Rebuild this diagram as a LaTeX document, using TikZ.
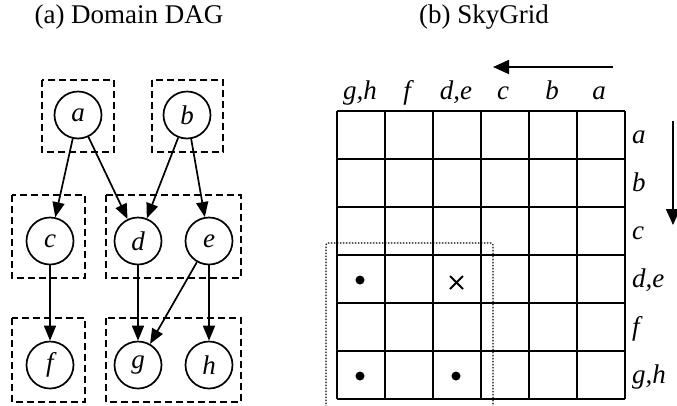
\documentclass[tikz,border=0pt]{standalone}
\usepackage{fontspec}
\setmainfont{Liberation Serif}
\usetikzlibrary{arrows.meta}
\begin{document}
\begin{tikzpicture}[x=1pt,y=-1pt,
  vert/.style={circle,draw,line width=1.7pt,minimum size=47pt,inner sep=0pt,font=\fontsize{27}{32}\selectfont\itshape},
  clusterbox/.style={draw,line width=1.7pt,dash pattern=on 7pt off 4pt},
  edge/.style={line width=1.7pt,-{Triangle[length=15pt,width=12pt]}},
  lbl/.style={font=\fontsize{27}{32}\selectfont\itshape,inner sep=0pt},
  ttl/.style={font=\fontsize{27}{32}\selectfont,inner sep=0pt},
  gridline/.style={line width=2pt},
  dirarrow/.style={line width=1.8pt,-{Triangle[length=16pt,width=14pt]}},
  mark dot/.style={fill=black},
]
\useasboundingbox (0,0) rectangle (677,405);

% titles
\node[ttl] (ta) at (129,17) {(a) Domain DAG};
\node[ttl] (tb) at (484,17) {(b) SkyGrid};

% clusters
\draw[clusterbox] (42,80) rectangle (114,152);
\draw[clusterbox] (152,80) rectangle (223,152);
\draw[clusterbox] (12,195) rectangle (85,278);
\draw[clusterbox] (106,195) rectangle (241,278);
\draw[clusterbox] (12,318) rectangle (85,402);
\draw[clusterbox] (106,318) rectangle (241,402);

% DAG nodes
\node[vert] (a) at (78,115) {a};
\node[vert] (b) at (187,115) {b};
\node[vert] (c) at (50,241) {c};
\node[vert] (d) at (138,241) {d};
\node[vert] (e) at (209,241) {e};
\node[vert] (f) at (50,365) {f};
\node[vert] (g) at (138,365) {g};
\node[vert] (h) at (209,365) {h};

\draw[edge] (a) -- (c);
\draw[edge] (a) -- (d);
\draw[edge] (b) -- (d);
\draw[edge] (b) -- (e);
\draw[edge] (c) -- (f);
\draw[edge] (d) -- (g);
\draw[edge] (e) -- (g);
\draw[edge] (e) -- (h);

% SkyGrid
\foreach \i in {0,...,6} {
  \draw[gridline] (337+48*\i,111) -- (337+48*\i,399);
  \draw[gridline] (337,111+48*\i) -- (625,111+48*\i);
}

% column labels
\node[lbl,anchor=base] (cgh) at (360,99) {g,h};
\node[lbl,anchor=base] (cf) at (407,99) {f};
\node[lbl,anchor=base] (cde) at (456,99) {d,e};
\node[lbl,anchor=base] (cc) at (503,99) {c};
\node[lbl,anchor=base] (cb) at (552,99) {b};
\node[lbl,anchor=base] (ca) at (599,99) {a};

% row labels
\node[lbl,anchor=base west] (ra) at (632,143) {a};
\node[lbl,anchor=base west] (rb) at (632,191) {b};
\node[lbl,anchor=base west] (rc) at (632,239) {c};
\node[lbl,anchor=base west] (rde) at (632,287) {d,e};
\node[lbl,anchor=base west] (rf) at (632,335) {f};
\node[lbl,anchor=base west] (rgh) at (632,383) {g,h};

% direction arrows
\coordinate (hs) at (613,67);
\coordinate (he) at (493,67);
\draw[dirarrow] (hs) -- (he);
\coordinate (vs) at (673,121);
\coordinate (ve) at (673,225);
\draw[dirarrow] (vs) -- (ve);

% marks
\fill[mark dot] (360,280) circle (4.5pt);
\fill[mark dot] (360,376) circle (4.5pt);
\fill[mark dot] (456,376) circle (4.5pt);
\draw[line width=1.8pt] (450,276) -- (463,289) (450,289) -- (463,276);

% dotted region
\draw[line width=1.1pt,dash pattern=on 1.5pt off 1.5pt,rounded corners=2pt] (326,410) -- (326,243) -- (493,243) -- (493,410);
\end{tikzpicture}
\end{document}
